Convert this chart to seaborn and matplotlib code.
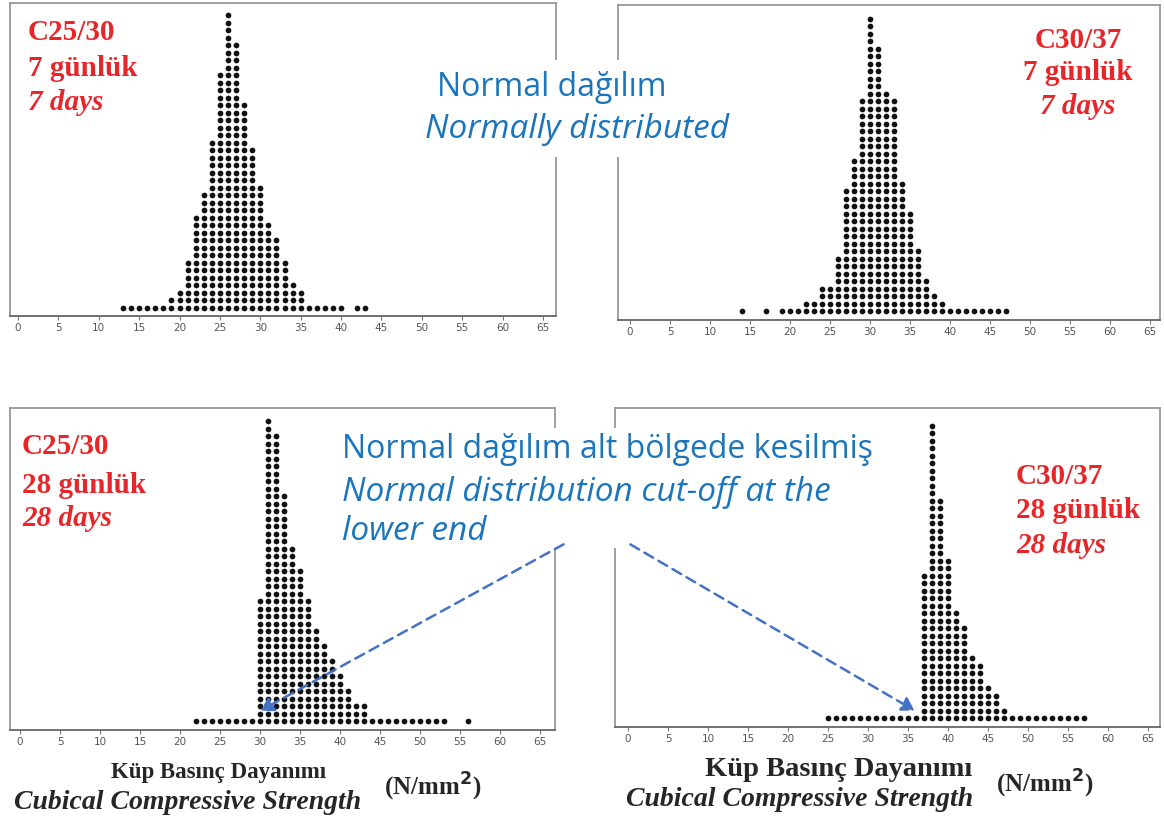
import numpy as np
import pandas as pd
import matplotlib
matplotlib.use("Agg")
import matplotlib.pyplot as plt
import seaborn as sns

# Dot counts per strength value (N/mm2)
c25_7_values = list(range(13, 45))
c25_7_counts = [1, 1, 1, 1, 1, 1, 2, 3, 7, 13, 16, 23, 32, 40, 36, 28,
                22, 17, 12, 10, 7, 4, 3, 1, 1, 1, 1, 1, 0, 1, 1, 0]

c30_7_values = list(range(14, 48))
c30_7_counts = [1, 0, 0, 1, 0, 1, 1, 1, 2, 2, 4, 4, 8, 17, 21, 29, 40,
                36, 30, 29, 18, 14, 9, 5, 3, 2, 1, 1, 1, 1, 1, 1, 1, 1]

c25_28_values = list(range(22, 57))
c25_28_counts = [1, 1, 1, 1, 1, 1, 1, 1, 17, 41, 39, 31, 24, 21, 17, 13,
                 11, 9, 7, 5, 3, 3, 1, 1, 1, 1, 1, 1, 1, 1, 1, 1, 0, 0, 1]

c30_28_values = list(range(25, 58))
c30_28_counts = [1, 1, 1, 1, 1, 1, 1, 1, 1, 1, 1, 1, 20, 40, 30, 22, 15,
                 13, 9, 8, 5, 4, 2, 1, 1, 1, 1, 1, 1, 1, 1, 1, 1]

x_ticks = list(range(0, 70, 5))

grade_labels = {
    "tl": ["C25/30", "7 günlük", "7 days"],
    "tr": ["C30/37", "7 günlük", "7 days"],
    "bl": ["C25/30", "28 günlük", "28 days"],
    "br": ["C30/37", "28 günlük", "28 days"],
}

W, H = 1164, 822
RED = "#e8262a"
BLUE = "#1b75bb"
ARROW = "#4472c4"
DOT_STEP = 7.5  # pixels between stacked dots


def stack_points(values, counts):
    rows = []
    for v, n in zip(values, counts):
        for k in range(1, n + 1):
            rows.append((v, k))
    return pd.DataFrame(rows, columns=["strength", "level"])


# panel geometry in pixels: left, right, top, bottom, x of 0, x of 65, dot baseline
panels = {
    "tl": (c25_7_values, c25_7_counts, (10, 556, 3, 316, 18, 543, 308)),
    "tr": (c30_7_values, c30_7_counts, (618, 1160, 5, 320, 630, 1150, 311.5)),
    "bl": (c25_28_values, c25_28_counts, (10, 555, 408, 730, 20, 540, 721)),
    "br": (c30_28_values, c30_28_counts, (615, 1160, 408, 727, 628, 1148, 718.3)),
}

sns.set_style("white")
fig = plt.figure(figsize=(W / 100, H / 100), dpi=100)

for key, (vals, cnts, geo) in panels.items():
    left, right, top, bottom, x0, x65, base = geo
    ax = fig.add_axes([left / W, 1 - bottom / H, (right - left) / W, (bottom - top) / H])
    df = stack_points(vals, cnts)
    sns.scatterplot(data=df, x="strength", y="level", ax=ax, color="#111111",
                    s=17, linewidth=0, marker="o", legend=False)
    ppu = (x65 - x0) / 65.0
    ax.set_xlim(-(x0 - left) / ppu, 65 + (right - x65) / ppu)
    ax.set_ylim(1 - (bottom - base) / DOT_STEP, 1 + (base - top) / DOT_STEP)
    ax.set_xticks(x_ticks)
    ax.set_yticks([])
    ax.set_xlabel("")
    ax.set_ylabel("")
    ax.tick_params(axis="x", bottom=True, length=3, width=0.8, color="#777777",
                   labelsize=7.5, labelcolor="#555555", pad=2)
    for side, sp in ax.spines.items():
        sp.set_color("#999999")
        sp.set_linewidth(1.3)
    ax.spines["bottom"].set_color("#666666")

serif = ["Liberation Serif", "DejaVu Serif"]
sans = ["Open Sans", "DejaVu Sans"]


def ftext(x, y, s, **kw):
    fig.text(x / W, 1 - y / H, s, **kw)


def white_box(x1, y1, x2, y2):
    fig.add_artist(matplotlib.patches.Rectangle(
        (x1 / W, 1 - y2 / H), (x2 - x1) / W, (y2 - y1) / H, transform=fig.transFigure,
        facecolor="white", edgecolor="none", zorder=1))


# red grade labels
for key, (x, ys, ha) in {
    "tl": (28, [33, 68, 102], "left"),
    "tr": (1078, [40, 73, 106], "center"),
    "bl": (22, [446, 485, 519], "left"),
    "br": (1016, [476, 511, 545], "left"),
}.items():
    lines = grade_labels[key]
    for i, (line, y) in enumerate(zip(lines, ys)):
        ftext(x, y, line, color=RED, family=serif, fontsize=21, fontweight="bold",
              style="italic" if i == 2 else "normal", ha=ha, va="center")

# blue notes, on white text boxes that hide the frames behind them
white_box(420, 60, 767, 157)
white_box(336, 428, 880, 548)
ftext(437, 87, "Normal dağılım", color=BLUE, family=sans, fontsize=23, va="center")
ftext(425, 130, "Normally distributed", color=BLUE, family=sans, fontsize=24,
      style="italic", va="center")
ftext(342, 449, "Normal dağılım alt bölgede kesilmiş", color=BLUE, family=sans,
      fontsize=23, va="center")
ftext(342, 492, "Normal distribution cut-off at the", color=BLUE, family=sans,
      fontsize=24, style="italic", va="center")
ftext(342, 531, "lower end", color=BLUE, family=sans, fontsize=24, style="italic",
      va="center")

# dashed arrows to the cut-off points
for start, end in [((566, 543), (258, 712)), ((628, 543), (917, 712))]:
    fig.add_artist(matplotlib.patches.FancyArrowPatch(
        (start[0] / W, 1 - start[1] / H), (end[0] / W, 1 - end[1] / H),
        transform=fig.transFigure, arrowstyle="-|>,head_length=5,head_width=3",
        color=ARROW, linewidth=1.8, linestyle=(0, (4, 2.5)), mutation_scale=1.5,
        zorder=2))

# axis captions
for cx, cx2, cx3, dy, ksize in [(219, 188, 433, 0, 16.5), (839, 800, 1045, -3, 20.5)]:
    ftext(cx, 772 + dy, "Küp Basınç Dayanımı", family=serif, fontsize=ksize,
          fontweight="bold", ha="center", va="center")
    ftext(cx2, 802 + dy, "Cubical Compressive Strength", family=serif, fontsize=20,
          fontweight="bold", style="italic", ha="center", va="center")
    ftext(cx3, 787 + dy, "(N/mm$^\\mathbf{2}$)", family=serif, fontsize=18,
          fontweight="bold", ha="center", va="center")

fig.savefig("out.png", dpi=100)
